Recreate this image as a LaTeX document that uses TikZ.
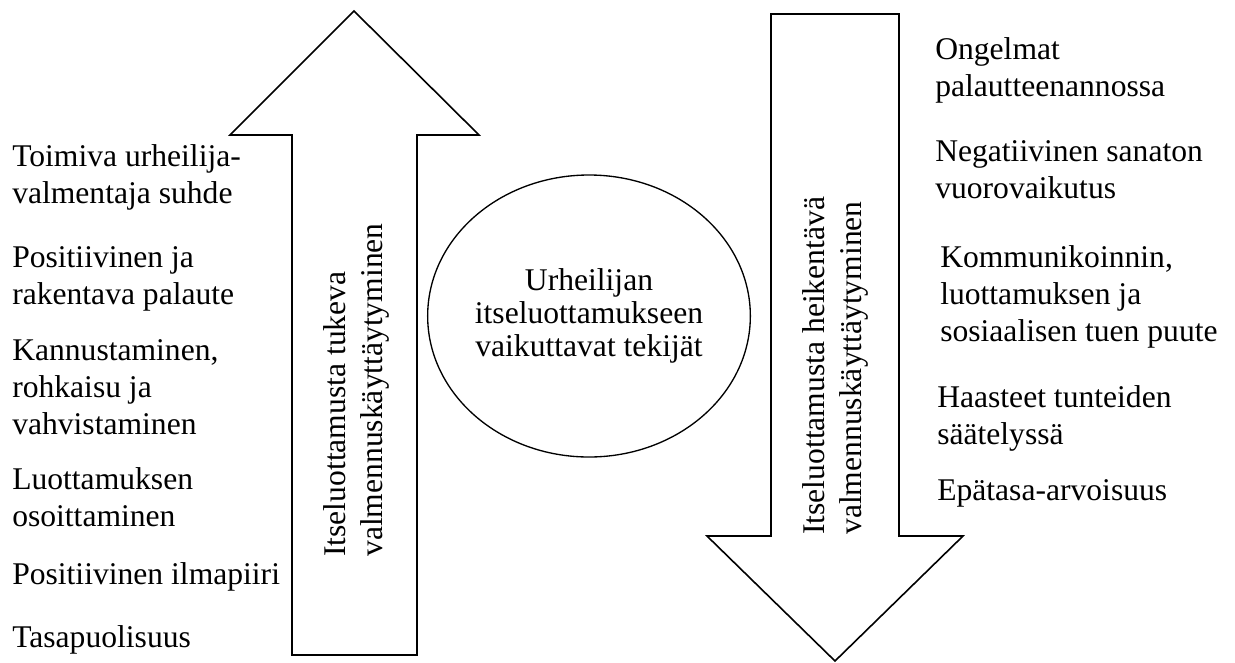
\documentclass[tikz,border=0pt]{standalone}
\usepackage{fontspec}
\setmainfont{Liberation Serif}
\usetikzlibrary{shapes.geometric}
\begin{document}
\begin{tikzpicture}[x=0.75pt,y=-0.75pt,
  every node/.style={inner sep=0pt, font=\fontsize{23.7}{27.75}\selectfont},
  item/.style={anchor=north west, align=left},
  arrowshape/.style={draw, line width=1.2pt, line join=miter},
  side/.style={rotate=90, anchor=north west, align=left},
  hubstyle/.style={draw, ellipse, line width=1pt, align=center,
    font=\fontsize{23.7}{25}\selectfont,
    minimum width=228pt, minimum height=211.5pt}]
\useasboundingbox (0,0) rectangle (1235,662);
% up arrow
\draw[arrowshape] (292,655) -- (292,135) -- (230,135) -- (354,11) -- (479,135)
  -- (417,135) -- (417,655) -- cycle;
% down arrow
\draw[arrowshape] (771,14) -- (771,536) -- (707,536) -- (835,661) -- (963,536)
  -- (899,536) -- (899,14) -- cycle;
% labels in arrows
\node[side] (uplabel) at (323,557) {Itseluottamusta tukeva\\valmennuskäyttäytyminen};
\node[side] (downlabel) at (802,535) {Itseluottamusta heikentävä\\valmennuskäyttäytyminen};
% centre
\node[hubstyle] (hub) at (589,316) {Urheilijan\\itseluottamukseen\\vaikuttavat tekijät};
% left items
\node[item] (l1) at (12,144.5) {Toimiva urheilija-\\valmentaja suhde};
\node[item] (l2) at (12,246.5) {Positiivinen ja\\rakentava palaute};
\node[item] (l3) at (12,339.5) {Kannustaminen,\\rohkaisu ja\\vahvistaminen};
\node[item] (l4) at (12,467.5) {Luottamuksen\\osoittaminen};
\node[item] (l5) at (12,562.5) {Positiivinen ilmapiiri};
\node[item] (l6) at (12,625.5) {Tasapuolisuus};
% right items
\node[item] (r1) at (935,37.5) {Ongelmat\\palautteenannossa};
\node[item] (r2) at (935,140.5) {Negatiivinen sanaton\\vuorovaikutus};
\node[item] (r3) at (940,245.5) {Kommunikoinnin,\\luottamuksen ja\\sosiaalisen tuen puute};
\node[item] (r4) at (937,385.5) {Haasteet tunteiden\\säätelyssä};
\node[item] (r5) at (937,479.5) {Epätasa-arvoisuus};
\end{tikzpicture}
\end{document}
